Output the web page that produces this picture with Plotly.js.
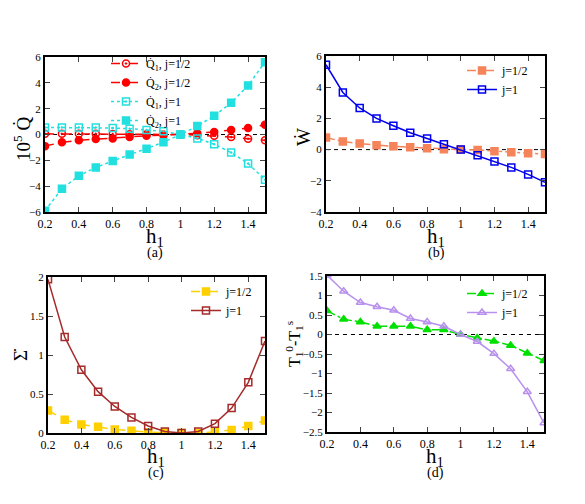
<!DOCTYPE html>
<html>
<head>
<meta charset="utf-8">
<script src="https://cdn.plot.ly/plotly-3.0.1.min.js"></script>
<style>body{margin:0;background:#fff}#g{width:585px;height:504px}</style>
</head>
<body>
<div id="g"></div>
<script>
// field values h1
const h1 = [0.2, 0.3, 0.4, 0.5, 0.6, 0.7, 0.8, 0.9, 1.0, 1.1, 1.2, 1.3, 1.4, 1.5];

// (a) heat currents, scaled by 10^5
const q1Half = [0.05, 0.05, 0.05, 0.05, 0.03, 0.02, 0.01, 0.0, 0.0, -0.05, -0.1, -0.2, -0.33, -0.45];
const q2Half = [-0.9, -0.6, -0.45, -0.35, -0.3, -0.2, -0.1, -0.05, 0.0, 0.1, 0.2, 0.35, 0.5, 0.75];
const q1One = [0.55, 0.55, 0.55, 0.55, 0.5, 0.45, 0.35, 0.25, 0.0, -0.3, -0.75, -1.4, -2.25, -3.5];
const q2One = [-5.9, -4.2, -3.2, -2.55, -2.05, -1.55, -1.1, -0.6, 0.0, 0.65, 1.45, 2.45, 3.8, 5.6];

// (b) power
const wHalf = [0.77, 0.52, 0.39, 0.28, 0.21, 0.15, 0.09, 0.02, 0.0, -0.02, -0.1, -0.17, -0.24, -0.28];
const wOne = [5.44, 3.66, 2.67, 2.0, 1.53, 1.08, 0.71, 0.34, 0.0, -0.37, -0.77, -1.14, -1.59, -2.1];

// (c) entropy production
const sHalf = [0.29, 0.17, 0.11, 0.08, 0.045, 0.03, 0.01, 0.005, 0.0, 0.0, 0.015, 0.04, 0.09, 0.16];
const sOne = [1.97, 1.23, 0.81, 0.53, 0.34, 0.2, 0.09, 0.02, 0.0, 0.02, 0.12, 0.32, 0.65, 1.18];

// (d) temperature difference
const tHalf = [0.61, 0.39, 0.32, 0.21, 0.21, 0.21, 0.12, 0.12, 0.0, -0.09, -0.17, -0.28, -0.48, -0.67];
const tOne = [1.52, 1.11, 0.82, 0.71, 0.62, 0.41, 0.32, 0.21, 0.0, -0.18, -0.49, -0.88, -1.47, -2.27];

const W = 585, H = 504;
const serif = 'Liberation Serif, Times New Roman, serif';

function dx(l, r) { return [l / W, r / W]; }
function dy(t, b) { return [1 - b / H, 1 - t / H]; }

function line(x, y, xa, ya, name, color, dash, symbol, leg) {
  return {
    x: x, y: y, xaxis: xa, yaxis: ya, name: name, legend: leg,
    type: 'scatter', mode: 'lines+markers',
    line: {color: color, width: 1.5, dash: dash},
    marker: {color: color, symbol: symbol, size: 7, line: {color: color, width: 1.5}}
  };
}

const data = [
  line(h1, q1Half, 'x', 'y', 'Q\u0307<sub>1</sub>, j=1/2', '#ff0000', 'dash', 'circle-open-dot', 'legend'),
  line(h1, q2Half, 'x', 'y', 'Q\u0307<sub>2</sub>, j=1/2', '#ff0000', 'dash', 'circle', 'legend'),
  line(h1, q1One, 'x', 'y', 'Q\u0307<sub>1</sub>, j=1', '#22e0e0', '3px,3px', 'square-open-dot', 'legend'),
  line(h1, q2One, 'x', 'y', 'Q\u0307<sub>2</sub>, j=1', '#22e0e0', '3px,3px', 'square', 'legend'),
  line(h1, wHalf, 'x2', 'y2', 'j=1/2', '#f5845a', 'dashdot', 'square', 'legend2'),
  line(h1, wOne, 'x2', 'y2', 'j=1', '#0000ee', 'solid', 'square-open', 'legend2'),
  line(h1, sHalf, 'x3', 'y3', 'j=1/2', '#ffd000', 'dash', 'square', 'legend3'),
  line(h1, sOne, 'x3', 'y3', 'j=1', '#a52a2a', 'solid', 'square-open', 'legend3'),
  line(h1, tHalf, 'x4', 'y4', 'j=1/2', '#00e000', 'dashdot', 'triangle-up', 'legend4'),
  line(h1, tOne, 'x4', 'y4', 'j=1', '#b890ee', 'solid', 'triangle-up-open', 'legend4')
];

function xax(dom, anchor) {
  return {
    domain: dom, anchor: anchor, range: [0.2, 1.5], tickvals: [0.2, 0.4, 0.6, 0.8, 1, 1.2, 1.4],
    ticks: 'inside', ticklen: 5, tickwidth: 1, mirror: 'ticks', showline: true, linewidth: 2,
    linecolor: '#000', showgrid: false, zeroline: false,
    tickfont: {family: serif, size: 12, color: '#000'}
  };
}
function yax(dom, anchor, range, dtick) {
  return {
    domain: dom, anchor: anchor, range: range, dtick: dtick,
    ticks: 'inside', ticklen: 5, tickwidth: 1, mirror: 'ticks', showline: true, linewidth: 2,
    linecolor: '#000', showgrid: false, zeroline: false,
    tickfont: {family: serif, size: 11, color: '#000'}
  };
}
function leg(x, y) {
  return {
    x: x / W, y: 1 - y / H, xanchor: 'left', yanchor: 'top', bgcolor: 'rgba(0,0,0,0)',
    font: {family: serif, size: 12, color: '#000'}, itemwidth: 30, tracegroupgap: 0
  };
}
function zero(xa, ya) {
  return {type: 'line', xref: xa + ' domain', yref: ya, x0: 0, x1: 1, y0: 0, y1: 0,
    line: {color: '#000', width: 1, dash: '4px,4px'}, layer: 'below'};
}
function label(text, x, y, size, angle) {
  return {text: text, x: x / W, y: 1 - y / H, xref: 'paper', yref: 'paper', showarrow: false,
    xanchor: 'center', yanchor: 'middle', textangle: angle || 0,
    font: {family: serif, size: size, color: '#000'}};
}

const layout = {
  width: W, height: H, margin: {l: 0, r: 0, t: 0, b: 0},
  paper_bgcolor: '#fff', plot_bgcolor: '#fff',
  xaxis: xax(dx(45, 265), 'y'),
  yaxis: yax(dy(57, 212), 'x', [-6, 6], 2),
  xaxis2: xax(dx(326, 545), 'y2'),
  yaxis2: yax(dy(56, 212), 'x2', [-4, 6], 2),
  xaxis3: xax(dx(48, 265), 'y3'),
  yaxis3: yax(dy(277, 433), 'x3', [0, 2], 0.5),
  xaxis4: xax(dx(327, 544), 'y4'),
  yaxis4: yax(dy(276, 432), 'x4', [-2.5, 1.5], 0.5),
  legend: leg(106, 49),
  legend2: leg(462, 56),
  legend3: leg(186, 277),
  legend4: leg(462, 279),
  shapes: [zero('x', 'y'), zero('x2', 'y2'), zero('x4', 'y4')],
  annotations: [
    label('h<sub>1</sub>', 155, 237, 21), label('h<sub>1</sub>', 436, 237, 21),
    label('h<sub>1</sub>', 156, 457, 21), label('h<sub>1</sub>', 435, 457, 21),
    label('(a)', 155, 253, 14), label('(b)', 436, 253, 14),
    label('(c)', 156, 473, 14), label('(d)', 435, 473, 14),
    label('10<sup>5</sup> Q\u0307', 22, 139, 19, -90),
    label('W\u0307', 304, 137, 19, -90),
    label('\u03A3\u0307', 20, 355, 19, -90),
    label('T<sub>1</sub><sup>0</sup>-T<sub>1</sub><sup>s</sup>', 294, 344, 16, -90)
  ]
};

Plotly.newPlot('g', data, layout, {displayModeBar: false, staticPlot: true});
</script>
</body>
</html>
